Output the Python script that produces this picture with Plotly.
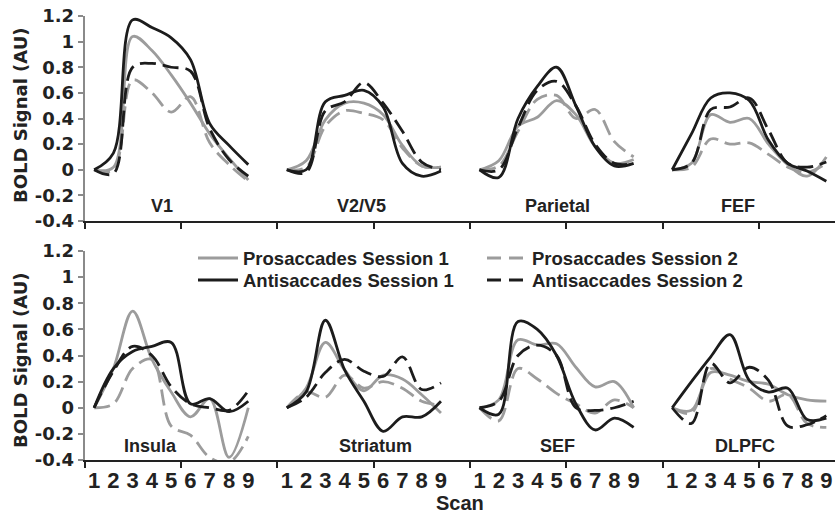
import plotly.graph_objects as go

W, H = 835, 519

# Regions of interest, four per row
regions_top = ["V1", "V2/V5", "Parietal", "FEF"]
regions_bottom = ["Insula", "Striatum", "SEF", "DLPFC"]
scan_labels = [str(s) for s in range(1, 10)]
y_ticks = [-0.4, -0.2, 0, 0.2, 0.4, 0.6, 0.8, 1, 1.2]
y_ticktext = ["-0.4", "-0.2", "0", "0.2", "0.4", "0.6", "0.8", "1", "1.2"]

# BOLD signal per scan (1..9), one list per region
pro_s1_top = [
    [0, 0.02, 1.04, 0.93, 0.74, 0.52, 0.28, 0.09, -0.08],
    [0, 0.07, 0.39, 0.52, 0.52, 0.43, 0.19, 0.03, 0.02],
    [0, 0.07, 0.34, 0.41, 0.54, 0.43, 0.18, 0.05, 0.08],
    [0, 0.05, 0.43, 0.37, 0.40, 0.20, 0.04, -0.05, 0.10],
]
pro_s2_top = [
    [0, 0.0, 0.70, 0.60, 0.45, 0.57, 0.21, 0.04, -0.09],
    [0, 0.02, 0.34, 0.46, 0.44, 0.39, 0.17, 0.03, 0.02],
    [0, 0.03, 0.30, 0.55, 0.58, 0.40, 0.47, 0.22, 0.10],
    [0, 0.02, 0.24, 0.20, 0.21, 0.12, 0.02, -0.02, 0.05],
]
anti_s1_top = [
    [0, 0.13, 1.17, 1.11, 1.03, 0.86, 0.36, 0.19, 0.04],
    [0, 0.0, 0.53, 0.58, 0.62, 0.49, 0.05, -0.05, -0.01],
    [0, -0.06, 0.40, 0.65, 0.80, 0.50, 0.18, 0.03, 0.05],
    [0, 0.28, 0.56, 0.60, 0.54, 0.23, 0.05, -0.01, -0.09],
]
anti_s2_top = [
    [0, -0.03, 0.80, 0.83, 0.80, 0.77, 0.32, 0.08, -0.05],
    [0, -0.02, 0.46, 0.53, 0.68, 0.52, 0.30, 0.06, 0.0],
    [0, 0.0, 0.33, 0.62, 0.69, 0.50, 0.20, 0.05, 0.05],
    [0, 0.05, 0.47, 0.49, 0.56, 0.31, 0.05, 0.02, 0.06],
]

pro_s1_bottom = [
    [0, 0.30, 0.74, 0.37, 0.12, -0.07, 0.07, -0.38, 0.0],
    [0, 0.15, 0.50, 0.29, 0.13, 0.25, 0.22, 0.10, -0.04],
    [0, 0.06, 0.52, 0.48, 0.49, 0.31, 0.16, 0.20, 0.0],
    [0, -0.02, 0.27, 0.25, 0.20, 0.18, 0.10, 0.06, 0.05],
]
pro_s2_bottom = [
    [0, 0.03, 0.30, 0.37, -0.14, -0.21, -0.38, -0.42, -0.22],
    [0, 0.12, 0.08, 0.25, 0.15, 0.20, 0.15, 0.05, 0.02],
    [0, -0.10, 0.30, 0.22, 0.11, 0.03, -0.04, 0.06, 0.0],
    [0, -0.04, 0.30, 0.22, 0.15, 0.05, 0.10, -0.12, -0.15],
]
anti_s1_bottom = [
    [0, 0.30, 0.43, 0.47, 0.50, 0.03, 0.07, -0.03, 0.05],
    [0, 0.12, 0.67, 0.29, 0.05, -0.18, -0.07, -0.07, 0.05],
    [0, -0.05, 0.66, 0.60, 0.40, 0.03, -0.17, -0.08, -0.15],
    [0, 0.20, 0.39, 0.56, 0.21, 0.12, 0.15, -0.09, -0.08],
]
anti_s2_bottom = [
    [0, 0.28, 0.47, 0.40, 0.16, 0.03, 0.0, -0.02, 0.13],
    [0, 0.08, 0.27, 0.37, 0.28, 0.24, 0.39, 0.14, 0.19],
    [0, 0.05, 0.40, 0.48, 0.40, 0.0, -0.02, 0.0, 0.05],
    [0, -0.12, 0.34, 0.19, 0.31, 0.21, -0.14, -0.13, -0.06],
]

GRAY = "#9c9c9c"
BLACK = "#1c1c1c"
TEXT = "#222222"
LONG_DASH = "16px,7px"

series_style = [
    ("Prosaccades Session 1", GRAY, "solid"),
    ("Prosaccades Session 2", GRAY, LONG_DASH),
    ("Antisaccades Session 1", BLACK, "solid"),
    ("Antisaccades Session 2", BLACK, LONG_DASH),
]


def to_xy(panels):
    """Lay the four regions side by side, 9 scans + one empty slot each."""
    xs, ys = [], []
    for p, vals in enumerate(panels):
        for s, v in enumerate(vals):
            xs.append(10 * p + s)
            ys.append(v)
        xs.append(10 * p + 9)
        ys.append(None)
    return xs, ys


fig = go.Figure()
rows = [
    ("x", "y", [pro_s1_top, pro_s2_top, anti_s1_top, anti_s2_top]),
    ("x2", "y2", [pro_s1_bottom, pro_s2_bottom, anti_s1_bottom, anti_s2_bottom]),
]
for xa, ya, data in rows:
    for (name, color, dash), panels in zip(series_style, data):
        xs, ys = to_xy(panels)
        fig.add_trace(go.Scatter(
            x=xs, y=ys, mode="lines", name=name, showlegend=False,
            xaxis=xa, yaxis=ya, connectgaps=False,
            line=dict(color=color, width=2.8, dash=dash, shape="spline", smoothing=1.0),
        ))

px_left = 84.5
x_range = [-0.5, 38.45]
x_dom = [px_left / W, 1.0]
top_dom = [1 - 221 / H, 1 - 16 / H]
bot_dom = [1 - 460 / H, 1 - 251 / H]

data_idx = [10 * p + s for p in range(4) for s in range(9)]
data_txt = scan_labels * 4
bound_ticks = [-0.5 + 5 * k for k in range(8)]

common_x = dict(
    range=x_range, domain=x_dom, showgrid=False, zeroline=False, automargin=False,
    showline=True, linecolor=TEXT, linewidth=2,
    tickmode="array", tickvals=data_idx, ticktext=data_txt,
    ticks="", ticklen=0,
    tickfont=dict(family="Liberation Sans", size=22, color=TEXT, weight="bold"),
    minor=dict(tickmode="array", tickvals=bound_ticks, ticks="outside",
               ticklen=6, tickwidth=2, tickcolor=TEXT, showgrid=False),
)
common_y = dict(
    range=[-0.4, 1.2], showgrid=False, zeroline=False, automargin=False,
    showline=True, linecolor="#8a8a8a", linewidth=1.5,
    tickmode="array", tickvals=y_ticks, ticktext=y_ticktext,
    ticks="outside", ticklen=5, tickcolor="#8a8a8a", tickwidth=1.5,
    tickfont=dict(family="DejaVu Sans", size=18, color=TEXT, weight="bold"),
)

fig.update_layout(
    width=W, height=H, margin=dict(l=0, r=0, t=0, b=0, autoexpand=False),
    paper_bgcolor="white", plot_bgcolor="white", showlegend=False,
    xaxis=dict(common_x, anchor="y", showticklabels=False),
    yaxis=dict(common_y, domain=top_dom, anchor="x"),
    xaxis2=dict(common_x, anchor="y2", showticklabels=True),
    yaxis2=dict(common_y, domain=bot_dom, anchor="x2"),
)

annotations = []
label_font = dict(family="Liberation Sans", size=18, color=TEXT, weight="bold")
top_label_x = [3.5, 13.85, 24.05, 33.4]
bottom_label_x = [2.9, 14.6, 24.05, 33.8]
for name, x in zip(regions_top, top_label_x):
    annotations.append(dict(text=name, x=x, y=-0.28, xref="x", yref="y",
                            xanchor="center", yanchor="middle",
                            showarrow=False, font=label_font))
for name, x in zip(regions_bottom, bottom_label_x):
    annotations.append(dict(text=name, x=x, y=-0.29, xref="x2", yref="y2",
                            xanchor="center", yanchor="middle",
                            showarrow=False, font=label_font))

title_font = dict(family="DejaVu Sans", size=18, color=TEXT, weight="bold")
for yc in (115, 360):
    annotations.append(dict(text="BOLD Signal (AU)", x=20 / W, y=1 - yc / H,
                            xref="paper", yref="paper", textangle=-90,
                            xanchor="center", yanchor="middle",
                            showarrow=False, font=title_font))
annotations.append(dict(text="Scan", x=460 / W, y=1 - 503 / H, xref="paper", yref="paper",
                        xanchor="center", yanchor="middle", showarrow=False,
                        font=dict(family="Liberation Sans", size=20, color=TEXT, weight="bold")))

# Legend: two columns (session 1 / session 2), two rows (pro / anti)
legend_font = dict(family="Liberation Sans", size=18.5, color=TEXT, weight="bold")
shapes = []
legend_cols = [(198, 238, 241), (487, 525, 530)]
legend_rows = [258, 280]
for i, (name, color, dash) in enumerate(series_style):
    row, col = divmod(i, 2)
    x0, x1, xt = legend_cols[col]
    yy = 1 - legend_rows[row] / H
    shapes.append(dict(type="line", xref="paper", yref="paper", x0=x0 / W, x1=x1 / W,
                       y0=yy, y1=yy,
                       line=dict(color=color, width=2.8,
                                 dash="solid" if dash == "solid" else "14px,8px")))
    annotations.append(dict(text=name, x=xt / W, y=yy, xref="paper", yref="paper",
                            xanchor="left", yanchor="middle", showarrow=False, font=legend_font))

fig.update_layout(annotations=annotations, shapes=shapes)
fig.write_html("out.html")
